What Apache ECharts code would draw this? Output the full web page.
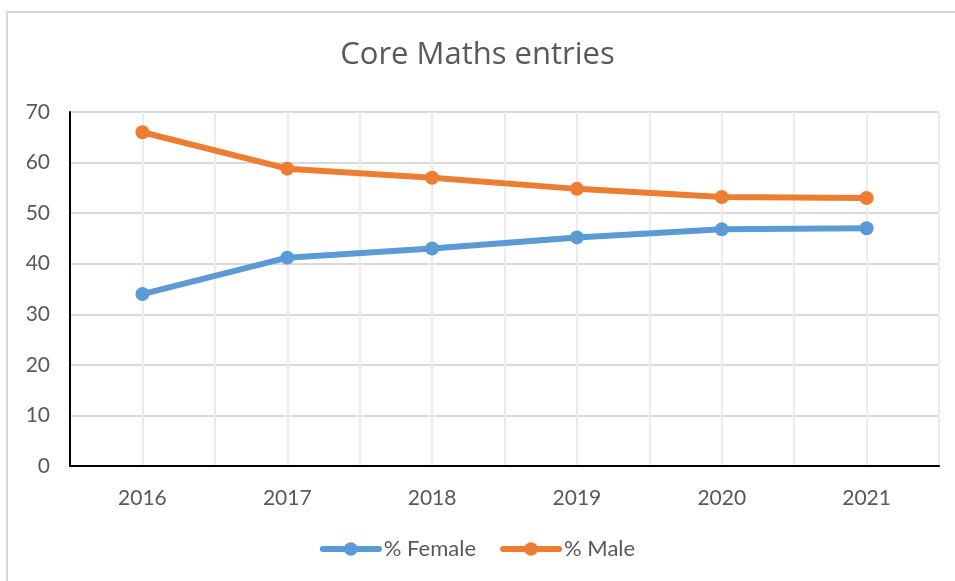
<!DOCTYPE html>
<html>
<head>
<meta charset="utf-8">
<script src="https://cdn.jsdelivr.net/npm/echarts@6/dist/echarts.min.js"></script>
<style>
html,body{margin:0;padding:0;background:#fff;}
#chart{width:955px;height:581px;}
</style>
</head>
<body>
<div id="chart"></div>
<script>
var titleText = 'Core Maths entries';
var categories = ['2016', '2017', '2018', '2019', '2020', '2021'];
var femaleName = '% Female';
var maleName = '% Male';
var femaleValues = [34.0, 41.2, 43.0, 45.2, 46.8, 47.0];
var maleValues = [66.0, 58.8, 57.0, 54.8, 53.2, 53.0];

var FONT = 'Lato';
var chart = echarts.init(document.getElementById('chart'), null, {renderer: 'canvas'});
chart.setOption({
  animation: false,
  backgroundColor: '#ffffff',
  graphic: [{
    type: 'rect', silent: true, z: -10,
    shape: {x: 7, y: 12, width: 970, height: 600},
    style: {fill: '#ffffff', stroke: '#d9d9d9', lineWidth: 2}
  }],
  title: {
    text: titleText, left: 'center', top: 35,
    textStyle: {fontFamily: 'Open Sans', fontSize: 31, fontWeight: 'normal', color: '#595959'}
  },
  legend: {
    bottom: 16, left: 'center', itemWidth: 56, itemHeight: 17, itemGap: 24,
    textStyle: {fontFamily: FONT, fontSize: 22, color: '#595959'},
    lineStyle: {width: 6, cap: 'round'},
    data: [femaleName, maleName]
  },
  grid: {left: 70, right: 16, top: 112, bottom: 115},
  xAxis: [{
    type: 'category', data: categories, boundaryGap: true,
    axisLine: {show: true, lineStyle: {color: '#000000', width: 2}},
    axisTick: {show: false},
    axisLabel: {fontFamily: FONT, fontSize: 21, color: '#595959', margin: 22},
    splitLine: {show: false}
  }, {
    type: 'value', min: 0, max: 12, interval: 1, position: 'bottom',
    axisLine: {show: false}, axisTick: {show: false}, axisLabel: {show: false},
    splitLine: {show: true, lineStyle: {color: '#ececec', width: 2}}
  }],
  yAxis: {
    type: 'value', min: 0, max: 70, interval: 10,
    axisLine: {show: true, lineStyle: {color: '#000000', width: 2}},
    axisTick: {show: false},
    axisLabel: {fontFamily: FONT, fontSize: 21, color: '#595959', margin: 20},
    splitLine: {show: true, lineStyle: {color: '#d9d9d9', width: 2}}
  },
  series: [{
    name: femaleName, type: 'line', data: femaleValues,
    symbol: 'circle', symbolSize: 14,
    lineStyle: {color: '#5b9bd5', width: 6, cap: 'round'},
    itemStyle: {color: '#5b9bd5'}, z: 3
  }, {
    name: maleName, type: 'line', data: maleValues,
    symbol: 'circle', symbolSize: 14,
    lineStyle: {color: '#ed7d31', width: 6, cap: 'round'},
    itemStyle: {color: '#ed7d31'}, z: 3
  }]
});
</script>
</body>
</html>
